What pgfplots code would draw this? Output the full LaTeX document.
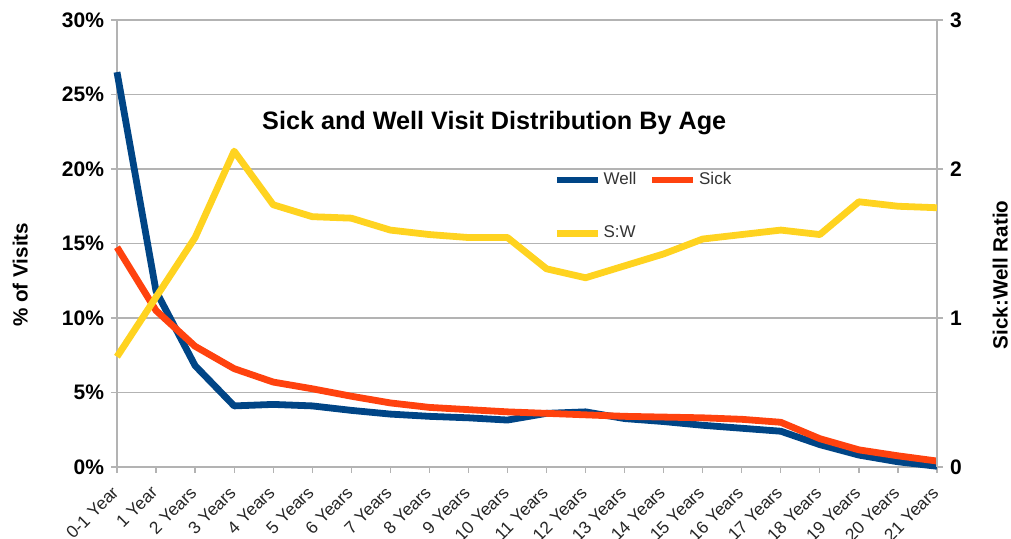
\documentclass[border=0pt]{standalone}
\usepackage{pgfplots}
\usepackage{pgfplotstable}
\pgfplotsset{compat=1.18}
\usepackage{fontspec}
\setmainfont{Liberation Sans}
\definecolor{wellc}{HTML}{004586}
\definecolor{sickc}{HTML}{FF420E}
\definecolor{swc}{HTML}{FFD320}
\definecolor{gridc}{HTML}{B3B3B3}

\pgfplotstableread{
x well sick sw
0 26.5 14.75 0.74
1 11.8 10.5 1.14
2 6.8 8.1 1.54
3 4.1 6.6 2.12
4 4.2 5.7 1.76
5 4.1 5.25 1.68
6 3.8 4.75 1.67
7 3.55 4.3 1.59
8 3.4 4.0 1.56
9 3.3 3.85 1.54
10 3.15 3.7 1.54
11 3.6 3.6 1.33
12 3.7 3.5 1.27
13 3.25 3.4 1.35
14 3.05 3.35 1.43
15 2.8 3.3 1.53
16 2.6 3.2 1.56
17 2.4 3.0 1.59
18 1.5 1.9 1.56
19 0.8 1.15 1.78
20 0.35 0.75 1.75
21 0.05 0.4 1.74
}\datatable

\begin{document}
\begin{tikzpicture}
\useasboundingbox (-58.5pt,-36pt) rectangle (447pt,233.5pt);
\begin{axis}[
  at={(0,0)}, anchor=south west,
  scale only axis, width=410pt, height=223.5pt,
  xmin=0, xmax=21, ymin=0, ymax=30,
  clip=false,
  xtick={0,...,21},
  xticklabels={0-1 Year,1 Year,2 Years,3 Years,4 Years,5 Years,6 Years,7 Years,8 Years,9 Years,10 Years,11 Years,12 Years,13 Years,14 Years,15 Years,16 Years,17 Years,18 Years,19 Years,20 Years,21 Years},
  ytick={0,5,...,30},
  yticklabels={0\%,5\%,10\%,15\%,20\%,25\%,30\%},
  ymajorgrids,
  grid style={gridc, line width=0.6pt},
  axis line style={gridc, line width=0.6pt},
  tick style={gridc, line width=0.6pt},
  tick align=outside, major tick length=3pt,
  ytick pos=left, xtick pos=bottom,
  yticklabel style={font=\fontsize{10.5}{12}\selectfont\bfseries},
  xticklabel style={yshift=-7.5pt, rotate=45, anchor=east, font=\fontsize{8.7}{10}\selectfont, inner sep=1pt, text=black!85},
  ylabel={\% of Visits},
  ylabel style={font=\fontsize{10.3}{12}\selectfont\bfseries, at={(axis description cs:-0.118,0.43)}, anchor=center},
  title={Sick and Well Visit Distribution By Age},
  title style={at={(axis description cs:0.46,0.742)}, anchor=center, font=\fontsize{12.6}{14}\selectfont\bfseries},
  legend columns=2,
  legend image code/.code={\draw[#1] (0pt,0pt) -- (20.5pt,0pt);},
  legend style={draw=none, fill=none, at={(axis description cs:0.5317,0.669)}, anchor=north west,
    font=\fontsize{8.5}{10}\selectfont, text=black!80, inner sep=0pt, row sep=15pt,
    nodes={inner xsep=1.2pt},
    /tikz/every even column/.append style={column sep=5.1pt}},
  legend cell align=left,
]
\addplot[wellc, line width=3.4pt, line join=round] table[x=x, y=well]{\datatable};
\addlegendentry{Well}
\addplot[sickc, line width=3.4pt, line join=round] table[x=x, y=sick]{\datatable};
\addlegendentry{Sick}
\addlegendimage{swc, line width=3.4pt}
\addlegendentry{S:W}
\end{axis}
\begin{axis}[
  at={(0,0)}, anchor=south west,
  scale only axis, width=410pt, height=223.5pt,
  xmin=0, xmax=21, ymin=0, ymax=3,
  clip=false,
  axis x line=none,
  axis y line*=right,
  ytick={0,1,2,3},
  yticklabels={0,1,2,3},
  axis line style={gridc, line width=0.6pt, -},
  tick style={gridc, line width=0.6pt},
  tick align=outside, major tick length=3pt,
  yticklabel style={font=\fontsize{10.5}{12}\selectfont\bfseries},
  ylabel={Sick:Well Ratio},
  ylabel style={font=\fontsize{10.3}{12}\selectfont\bfseries, at={(axis description cs:1.077,0.43)}, anchor=center, rotate=0},
]
\addplot[swc, line width=3.4pt, line join=round] table[x=x, y=sw]{\datatable};
\end{axis}
\end{tikzpicture}
\end{document}
